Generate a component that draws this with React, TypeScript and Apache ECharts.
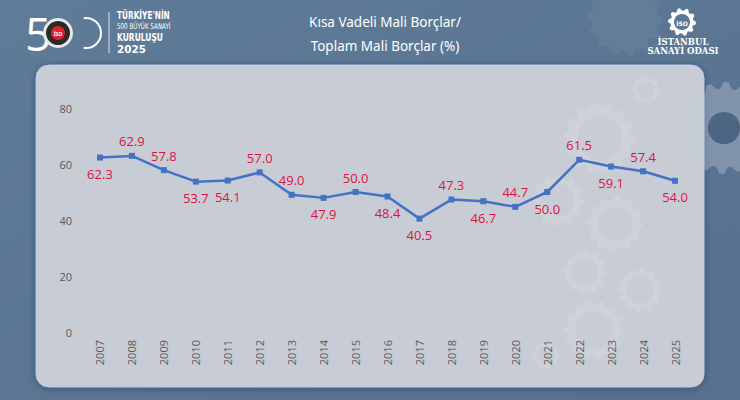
import React, { useEffect, useRef } from "react";
import * as echarts from "echarts";

const years = ["2007","2008","2009","2010","2011","2012","2013","2014","2015","2016","2017","2018","2019","2020","2021","2022","2023","2024","2025"];
const ratio = [62.3, 62.9, 57.8, 53.7, 54.1, 57.0, 49.0, 47.9, 50.0, 48.4, 40.5, 47.3, 46.7, 44.7, 50.0, 61.5, 59.1, 57.4, 54.0];
const yTicks = { min: 0, max: 80, interval: 20 };
const titleLines = ["Kısa Vadeli Mali Borçlar/", "Toplam Mali Borçlar (%)"];
// label placement: true = above the point
const labelAbove = [false, true, true, false, false, true, true, false, true, false, false, true, false, true, false, true, false, true, false];

function gear(cx: number, cy: number, ro: number, ri: number, teeth: number) {
  const pts: number[][] = [];
  const n = teeth * 4;
  for (let i = 0; i < n; i++) {
    const a = (i / n) * Math.PI * 2;
    const r = i % 4 < 2 ? ro : ri;
    pts.push([cx + r * Math.cos(a), cy + r * Math.sin(a)]);
  }
  return pts;
}

function decoGear(cx: number, cy: number, r: number, teeth: number, color: string, hole: string, holeRatio = 0.62) {
  return [
    { type: "polygon", silent: true, shape: { points: gear(cx, cy, r, r * 0.86, teeth) }, style: { fill: color } },
    { type: "circle", silent: true, shape: { cx, cy, r: r * holeRatio }, style: { fill: hole } },
  ];
}

function logoText(text: string, x: number, y: number, font: string, scaleX: number) {
  return { type: "text", silent: true, x, y, scaleX, style: { text, x: 0, y: 0, verticalAlign: "middle", fill: "#ffffff", font } };
}

export default function App() {
  const ref = useRef<HTMLDivElement>(null);
  useEffect(() => {
    document.body.style.margin = "0";
    const chart = echarts.init(ref.current!, null, { renderer: "svg" });
    const panelFill = "#c8ccd4";
    const faint = "rgba(255,255,255,0.11)";
    const graphics: any[] = [
      // background gears on right edge
      ...decoGear(724, 128, 46, 16, "rgba(200,210,222,0.35)", "rgba(70,96,125,0.9)", 0.35),
      ...decoGear(625, 18, 38, 14, "rgba(255,255,255,0.05)", "rgba(90,118,147,0)"),
      // panel
      {
        type: "rect", silent: true, z: -1,
        shape: { x: 35, y: 64, width: 670, height: 324, r: 14 },
        style: { fill: panelFill, stroke: "#3e62a0", lineWidth: 1, shadowBlur: 6, shadowColor: "rgba(0,0,0,0.25)", shadowOffsetY: 1 },
      },
      // faint gears inside panel
      ...decoGear(600, 138, 36, 14, faint, panelFill),
      ...decoGear(646, 90, 14, 10, faint, panelFill),
      ...decoGear(558, 200, 26, 12, faint, panelFill),
      ...decoGear(615, 224, 28, 12, faint, panelFill),
      ...decoGear(585, 272, 22, 12, faint, panelFill),
      ...decoGear(640, 290, 22, 12, faint, panelFill),
      ...decoGear(594, 330, 30, 14, faint, panelFill),
      ...decoGear(546, 355, 14, 10, faint, panelFill),
      // title
      { type: "text", silent: true, style: { text: titleLines[0], x: 385, y: 22, align: "center", verticalAlign: "middle", fill: "#ffffff", font: "13.5px 'Noto Sans', sans-serif" } },
      { type: "text", silent: true, style: { text: titleLines[1], x: 385, y: 46, align: "center", verticalAlign: "middle", fill: "#ffffff", font: "13.5px 'Noto Sans', sans-serif" } },
      // left logo
      { type: "text", silent: true, style: { text: "5", x: 25, y: 33, verticalAlign: "middle", fill: "#ffffff", font: "46px 'Open Sans', sans-serif" } },
      { type: "circle", silent: true, shape: { cx: 58, cy: 33, r: 15 }, style: { fill: "#e8e8e8" } },
      { type: "circle", silent: true, shape: { cx: 58, cy: 33, r: 12 }, style: { fill: "#2a2a2a" } },
      { type: "circle", silent: true, shape: { cx: 58, cy: 33, r: 7 }, style: { fill: "#d9232d" } },
      { type: "text", silent: true, style: { text: "İSO", x: 58, y: 34, align: "center", verticalAlign: "middle", fill: "#ffffff", font: "bold 5px 'Noto Sans', sans-serif" } },
      { type: "arc", silent: true, shape: { cx: 86, cy: 33, r: 15, startAngle: -Math.PI * 0.55, endAngle: Math.PI * 0.55 }, style: { stroke: "#ffffff", lineWidth: 2, fill: "none" } },
      { type: "line", silent: true, shape: { x1: 109, y1: 12, x2: 109, y2: 53 }, style: { stroke: "rgba(255,255,255,0.8)", lineWidth: 1 } },
      logoText("TÜRKİYE'NİN", 117, 15, "bold 10.5px 'DejaVu Sans Condensed', sans-serif", 0.78),
      logoText("500 BÜYÜK SANAYİ", 117, 26.5, "8px 'DejaVu Sans Condensed', sans-serif", 0.78),
      logoText("KURULUŞU", 117, 37, "bold 10.5px 'DejaVu Sans Condensed', sans-serif", 0.8),
      logoText("2025", 117, 49, "bold 11px 'DejaVu Sans', sans-serif", 0.95),
      // right logo
      { type: "polygon", silent: true, shape: { points: gear(682, 22, 14, 11.5, 10) }, style: { fill: "#ffffff" } },
      { type: "circle", silent: true, shape: { cx: 682, cy: 22, r: 8 }, style: { fill: "#5b7895" } },
      { type: "text", silent: true, style: { text: "İSO", x: 682, y: 23, align: "center", verticalAlign: "middle", fill: "#ffffff", font: "bold 6px 'DejaVu Sans', sans-serif" } },
      { type: "text", silent: true, style: { text: "İSTANBUL", x: 683, y: 42, align: "center", verticalAlign: "middle", fill: "#ffffff", font: "bold 8.5px 'DejaVu Serif', serif" } },
      { type: "text", silent: true, style: { text: "SANAYİ ODASI", x: 683, y: 51, align: "center", verticalAlign: "middle", fill: "#ffffff", font: "bold 8.5px 'DejaVu Serif', serif" } },
    ];

    chart.setOption({
      animation: false,
      backgroundColor: {
        type: "linear", x: 0, y: 0, x2: 1, y2: 1,
        colorStops: [{ offset: 0, color: "#5e7b98" }, { offset: 1, color: "#56718e" }],
      },
      graphic: { elements: graphics },
      grid: { left: 84, right: 49, top: 108, bottom: 68 },
      xAxis: {
        type: "category",
        data: years,
        boundaryGap: true,
        axisLine: { show: false },
        axisTick: { show: false },
        axisLabel: { rotate: 90, color: "#595959", fontSize: 11, margin: 8, fontFamily: "'Open Sans', sans-serif" },
      },
      yAxis: {
        type: "value",
        min: yTicks.min, max: yTicks.max, interval: yTicks.interval,
        splitLine: { show: false },
        axisLine: { show: false },
        axisTick: { show: false },
        axisLabel: { color: "#595959", fontSize: 11, margin: 12, fontFamily: "'Open Sans', sans-serif" },
      },
      series: [
        {
          type: "line",
          data: ratio.map((v, i) => ({
            value: v,
            label: { position: labelAbove[i] ? "top" : "bottom", distance: labelAbove[i] ? 5 : 7 },
          })),
          symbol: "rect",
          symbolSize: 6,
          lineStyle: { color: "#4472c4", width: 2.5 },
          itemStyle: { color: "#4472c4" },
          label: {
            show: true,
            formatter: (p: any) => Number(p.value).toFixed(1),
            color: "#dc1440",
            fontSize: 13,
            fontFamily: "'Open Sans', sans-serif",
          },
        },
      ],
    });
    return () => chart.dispose();
  }, []);
  return <div ref={ref} style={{ width: 740, height: 400 }} />;
}
